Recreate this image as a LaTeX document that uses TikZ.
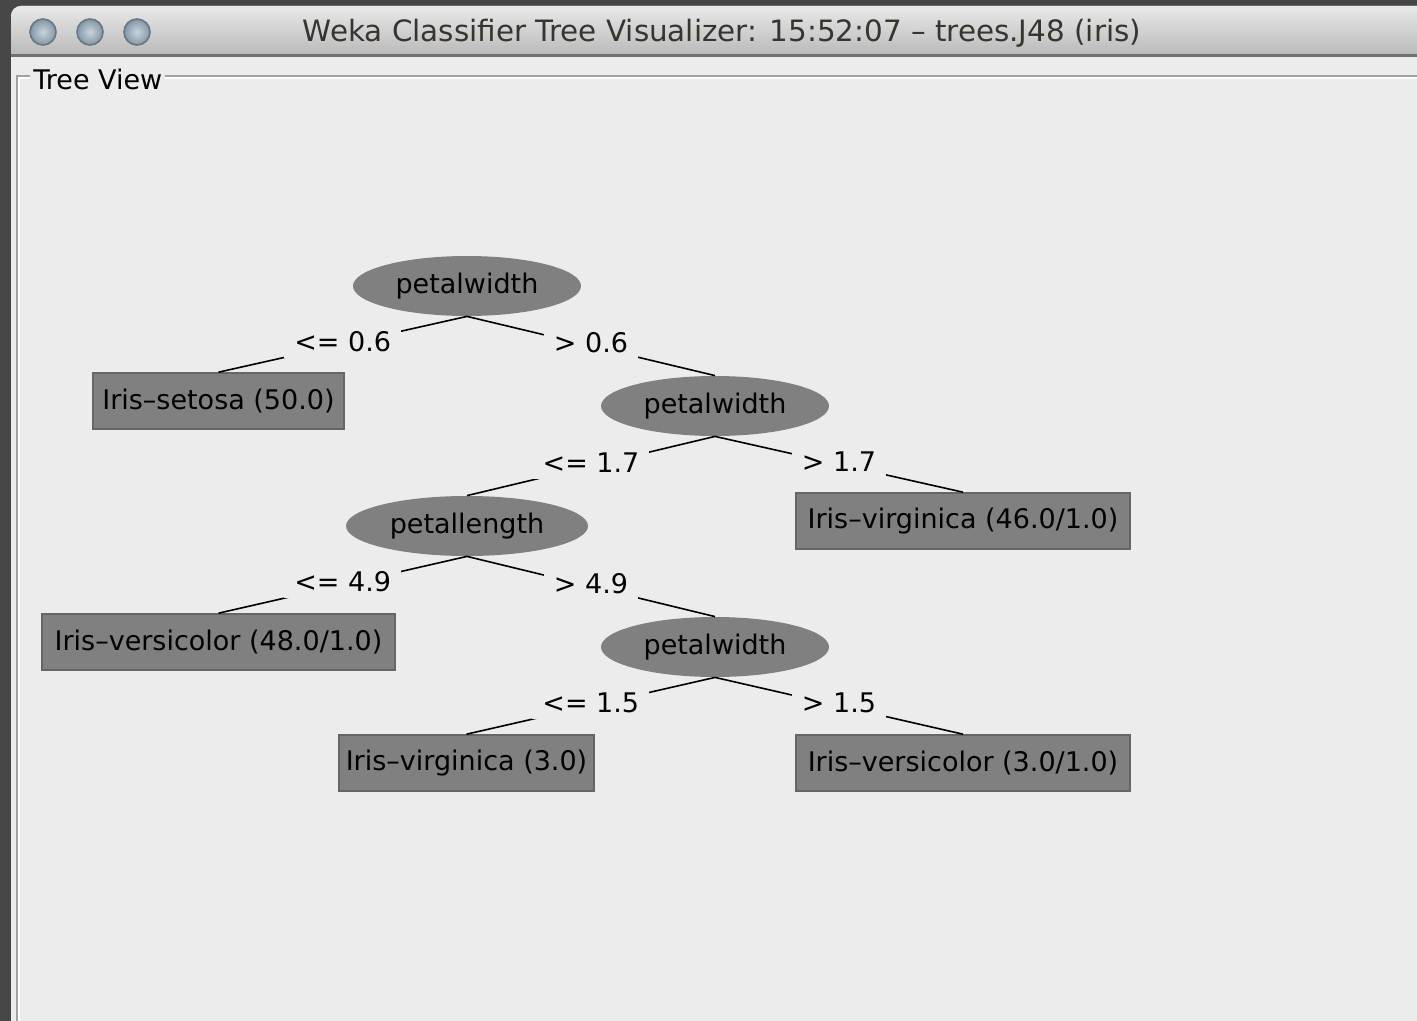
\documentclass[tikz,border=0pt]{standalone}
\usepackage{fontspec}
\setmainfont{DejaVu Sans}
\usetikzlibrary{shapes.geometric}

\definecolor{desk}{HTML}{474747}
\definecolor{pane}{HTML}{ECECEC}
\definecolor{bartop}{HTML}{E9E9E9}
\definecolor{barbottom}{HTML}{B9B9B9}
\definecolor{barline}{HTML}{707070}
\definecolor{etch}{HTML}{A2A2A2}
\definecolor{nodegray}{HTML}{808080}
\definecolor{leafedge}{HTML}{666666}
\definecolor{titleink}{HTML}{383530}
\definecolor{knobin}{HTML}{C8D4DE}
\definecolor{knobout}{HTML}{8396A6}
\definecolor{knobrim}{HTML}{6A7681}

\newcommand{\uifont}{\fontsize{13.5pt}{16pt}\selectfont}
\newcommand{\barfont}{\fontsize{14.7pt}{17pt}\selectfont}

\begin{document}
\begin{tikzpicture}[x=0.5pt,y=-0.5pt,
  split/.style={ellipse, fill=nodegray, minimum width=114pt, minimum height=30pt,
    inner sep=0pt, font=\uifont},
  leaf/.style={rectangle, fill=nodegray, draw=leafedge, line width=0.8pt,
    minimum height=28pt, inner sep=0pt, font=\uifont},
  branch/.style={black, line width=0.8pt},
  cond/.style={fill=pane, inner xsep=5pt, inner ysep=3pt, font=\uifont, yshift=1.5pt},
  knob/.style={inner color=knobin, outer color=knobout}
]
\useasboundingbox (0,0) rectangle (1417,1021);
\clip (0,0) rectangle (1417,1021);

% desktop and window body
\fill[desk] (0,0) rectangle (1417,1021);
\fill[pane, rounded corners=5pt] (11,6) rectangle (1450,1060);

% title bar
\begin{scope}
  \clip[rounded corners=5pt] (11,6) rectangle (1450,1060);
  \shade[top color=bartop, bottom color=barbottom] (11,6) rectangle (1417,55);
\end{scope}
\draw[barline, line width=1.2pt] (11,55.5) -- (1417,55.5);

% window buttons
\foreach \cx in {43,90,137}{
  \shade[knob] (\cx,32) circle[radius=6.5pt];
  \draw[knobrim, line width=0.8pt] (\cx,32) circle[radius=6.5pt];
}

\node[font=\barfont, text=titleink] (title) at (722,33)
  {Weka Classifier Tree Visualizer: 15:52:07 – trees.J48 (iris)};

% titled border of the tree panel
\draw[etch, line width=1pt] (1417,76) -- (16.5,76) -- (16.5,1021);
\draw[white, line width=1pt] (1417,78.5) -- (19,78.5) -- (19,1021);
\node[font=\uifont, fill=pane, inner xsep=1.5pt, inner ysep=1pt, anchor=west] (panel) at (30,79) {Tree View};

% decision tree
\node[split] (n1) at (467,286) {petalwidth};
\node[leaf, minimum width=125.5pt] (l1) at (218.5,401) {Iris–setosa (50.0)};
\node[split] (n2) at (715,406) {petalwidth};
\node[leaf, minimum width=167pt] (l2) at (963,521) {Iris–virginica (46.0/1.0)};
\node[split, minimum width=121pt] (n3) at (467,526) {petallength};
\node[leaf, minimum width=176.5pt] (l3) at (218.5,642) {Iris–versicolor (48.0/1.0)};
\node[split] (n4) at (715,647) {petalwidth};
\node[leaf, minimum width=127.5pt] (l4) at (466.5,763) {Iris–virginica (3.0)};
\node[leaf, minimum width=167pt] (l5) at (963,763) {Iris–versicolor (3.0/1.0)};

\draw[branch] (n1.south) -- node[cond] {<= 0.6} (l1.north);
\draw[branch] (n1.south) -- node[cond] {> 0.6} (n2.north);
\draw[branch] (n2.south) -- node[cond] {<= 1.7} (n3.north);
\draw[branch] (n2.south) -- node[cond] {> 1.7} (l2.north);
\draw[branch] (n3.south) -- node[cond] {<= 4.9} (l3.north);
\draw[branch] (n3.south) -- node[cond] {> 4.9} (n4.north);
\draw[branch] (n4.south) -- node[cond] {<= 1.5} (l4.north);
\draw[branch] (n4.south) -- node[cond] {> 1.5} (l5.north);
\end{tikzpicture}
\end{document}
